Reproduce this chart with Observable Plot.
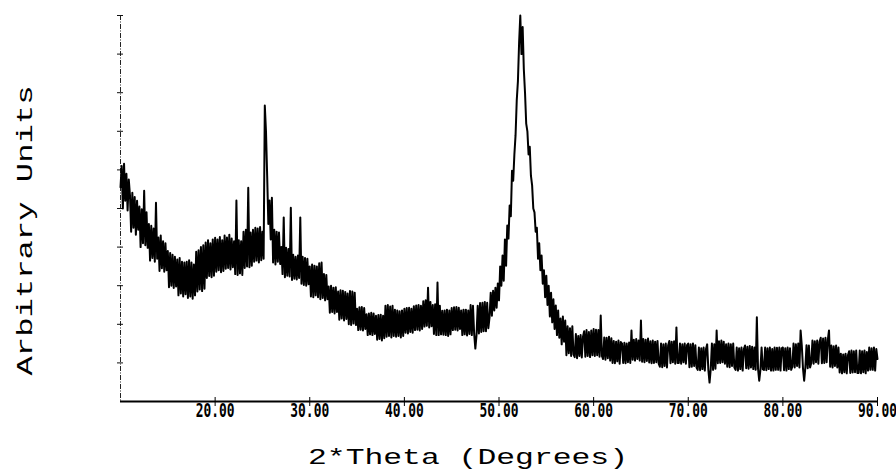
<!DOCTYPE html>
<html><head><meta charset="utf-8">
<script src="https://cdn.jsdelivr.net/npm/d3@7"></script>
<script src="https://cdn.jsdelivr.net/npm/@observablehq/plot@0.6"></script>
<style>
body{margin:0;background:#fff}
#chart{width:896px;height:475px}
</style>
</head><body><div id="chart"></div>
<script>
// Sampling grid of the scan (degrees 2θ)
const thetaStart = 10, thetaStep = 0.125;
// Intensity (arbitrary units, 0–1000), 8 values per degree
const intensity = [
 555,610,500,616,520,590,495,575,  535,440,541,450,530,432,520,445,
 505,400,498,410,546,405,490,398,  460,365,455,372,448,362,515,370,
 425,338,430,345,415,336,410,340,  390,296,385,300,380,294,375,298,
 368,275,372,280,362,272,360,278,  362,268,366,272,360,266,355,275,
 388,285,392,290,400,286,405,292,  412,320,418,325,410,322,420,326,
 424,336,420,340,426,335,418,338,  430,344,425,346,432,342,422,348,
 415,330,521,328,418,332,415,328,  440,346,445,350,554,348,438,352,
 445,362,450,365,448,360,452,366,  440,370,767,700,585,460,521,420,
 528,360,445,355,440,362,438,356,  400,330,477,322,398,326,395,324,
 502,315,380,318,375,316,378,320,  477,305,375,302,372,300,370,304,
 350,272,355,270,352,275,350,270,  358,265,360,268,330,262,328,265,
 298,230,300,232,295,228,296,232,  285,212,288,215,287,210,284,214,
 280,200,286,198,285,202,282,198,  240,185,244,186,245,184,242,188,
 226,172,228,174,230,172,228,175,  222,160,224,162,225,158,222,164,
 248,168,250,170,246,166,248,170,  238,168,236,170,234,166,236,170,
 240,178,242,176,243,180,240,178,  247,185,249,186,250,184,248,188,
 260,194,262,196,295,192,258,195,  250,175,252,172,308,172,248,174,
 235,173,236,172,238,170,236,174,  242,185,244,186,245,184,243,188,
 236,172,238,174,238,171,236,175,  250,172,248,175,137,172,248,176,
 255,180,256,182,258,182,256,190,  218,282,222,287,236,295,243,306,
 262,350,300,378,313,420,352,456,  422,508,480,598,572,640,690,780,
 830,930,1000,900,970,860,800,720, 700,640,660,585,560,500,490,440,
 450,370,410,340,378,305,340,270,  326,250,300,220,282,205,265,188,
 249,172,236,165,215,148,220,155,  210,120,195,125,190,118,195,122,
 115,175,112,170,118,172,114,168,  182,116,185,118,180,115,184,120,
 188,118,186,120,185,116,223,118,  110,166,108,165,112,168,106,164,
 100,157,99,155,104,158,98,154,    150,100,152,99,150,102,153,100,
 184,108,160,106,162,110,158,106,  210,103,162,102,160,105,163,101,
 156,99,158,100,155,102,157,98,    90,150,89,148,92,150,88,146,
 157,99,155,102,156,98,192,100,    100,150,98,148,102,150,98,146,
 150,89,148,90,150,92,146,88,      82,140,81,138,84,140,80,136,
 148,82,49,84,150,82,148,85,       184,99,156,100,158,102,155,98,
 148,90,150,89,148,92,150,88,      82,140,80,138,84,140,80,136,
 145,86,142,85,144,88,142,84,      140,82,218,85,54,82,140,84,
 82,140,81,138,84,140,80,136,      80,140,82,139,82,140,80,138,
 140,81,138,80,140,84,138,82,      90,150,88,148,92,150,88,184,
 145,86,54,88,146,86,145,88,       100,158,98,156,102,158,98,155,
 165,99,163,100,165,102,160,184,   90,145,88,143,92,145,88,140,
 75,124,73,122,76,124,73,120,      130,74,132,75,130,76,132,74,
 74,132,73,130,76,132,73,128,      80,140,82,138,82,140,80,136,
 110
];
const xTicks = [20, 30, 40, 50, 60, 70, 80, 90];
const xTickLabels = ["20.00", "30.00", "40.00", "50.00", "60.00", "70.00", "80.00", "90.00"];
const yTicks = [100, 200, 300, 400, 500, 600, 700, 800, 900, 1000];
const xTitle = "2*Theta (Degrees)";
const yTitle = "Arbitrary Units";

const data = intensity.map((v, i) => ({theta: thetaStart + i * thetaStep, v}));

const plot = Plot.plot({
  width: 896, height: 475,
  marginLeft: 120, marginRight: 19, marginTop: 15, marginBottom: 74,
  x: {domain: [10, 90]},
  y: {domain: [0, 1000]},
  style: {background: "#fff", color: "#000", overflow: "visible"},
  marks: [
    Plot.ruleX([10], {stroke: "#222", strokeWidth: 1, strokeDasharray: "5,1.5,1,1.5"}),
    Plot.axisY({ticks: yTicks, tickSize: 6, dx: 3, tickFormat: () => "", label: null, stroke: "#111"}),
    Plot.line(data, {x: "theta", y: "v", stroke: "#000", strokeWidth: 2, strokeLinejoin: "round"}),
    Plot.ruleY([0], {stroke: "#000", strokeWidth: 2}),
    Plot.axisX({ticks: xTicks, tickSize: 9, dy: -4, tickFormat: () => "", label: null, stroke: "#000"}),
    Plot.text(xTicks, {x: d => d, text: d => xTickLabels[xTicks.indexOf(d)], frameAnchor: "bottom",
      lineAnchor: "top", dy: 2, fontSize: 19, fontWeight: "bold", fontFamily: "DejaVu Sans Mono", fill: "#000"}),
    Plot.text([xTitle], {frameAnchor: "bottom", dx: -31, dy: 62, lineAnchor: "bottom", fontSize: 22,
      fontFamily: "Liberation Mono", fill: "#000"}),
    Plot.text([yTitle], {frameAnchor: "left", dx: -96, dy: 167, rotate: -90, textAnchor: "start", fontSize: 22,
      fontFamily: "Liberation Mono", fill: "#000"})
  ]
});
document.getElementById("chart").appendChild(plot);

// condense the tick lettering horizontally, widen the titles, like the scanned original
function squeeze(t, sx) {
  const tr = t.getAttribute("transform");
  if (tr) t.setAttribute("transform", tr + ` scale(${sx},1)`);
  else {
    const x = +t.getAttribute("x") || 0, y = +t.getAttribute("y") || 0;
    t.setAttribute("transform", `translate(${x},${y}) scale(${sx},1) translate(${-x},${-y})`);
  }
}
plot.querySelectorAll("text").forEach(t => {
  const s = t.textContent;
  if (xTickLabels.includes(s)) {
    squeeze(t, 0.68);
  } else if (s === xTitle) {
    t.setAttribute("textLength", 320);
    t.setAttribute("lengthAdjust", "spacingAndGlyphs");
  } else if (s === yTitle) {
    t.setAttribute("textLength", 290);
    t.setAttribute("lengthAdjust", "spacingAndGlyphs");
  }
});
</script>
</body></html>
